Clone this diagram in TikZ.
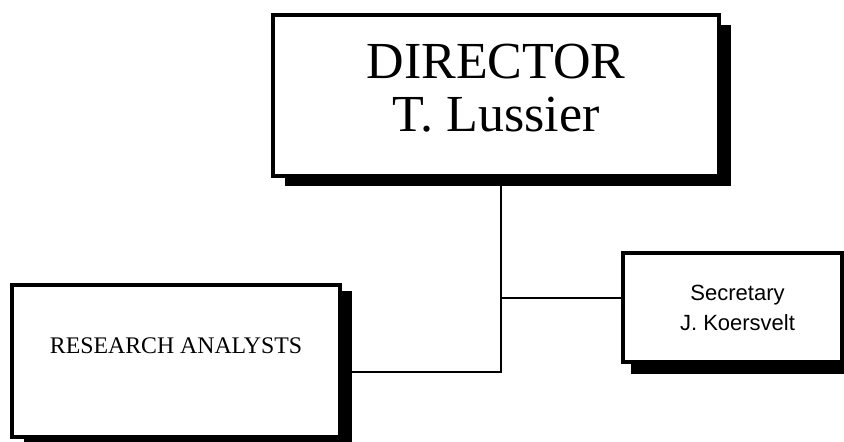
\documentclass[tikz,border=0pt]{standalone}
\usepackage{fontspec}
\setmainfont{Liberation Serif}
\newfontfamily\secfont{Liberation Sans}
\usetikzlibrary{shadows}
\tikzset{
	orgbox/.style={draw,fill=white,line width=2pt},
	boxshadow/.style 2 args={drop shadow={shadow xshift=#1,shadow yshift=#2,fill=black,opacity=1}},
}
\begin{document}
\begin{tikzpicture}[x=0.5pt,y=-0.5pt,line width=1pt]
		\useasboundingbox (0,0) rectangle (844,442);
		\node[orgbox,boxshadow={6pt}{-5pt},minimum width=223pt,minimum height=80.5pt] (dir) at (496,95.5) {};
		\node[orgbox,boxshadow={6pt}{-3pt},minimum width=164pt,minimum height=76pt] (ra) at (176,361) {};
		\node[orgbox,boxshadow={4pt}{-6pt},minimum width=109.5pt,minimum height=54.5pt] (sec) at (732.5,307.5) {};
		\node[font=\fontsize{26}{26.5}\selectfont,align=center] (dirname) at ([yshift=3.75pt]dir.center) {DIRECTOR\\T. Lussier};
		\node[font=\fontsize{11.9}{13}\selectfont] (raname) at ([yshift=7.75pt]ra.center) {RESEARCH ANALYSTS};
		\node[font=\secfont\fontsize{11}{15}\selectfont,align=center] (secname) at ([xshift=2.5pt]sec.center) {Secretary\\J. Koersvelt};
		\coordinate (joint) at (501,372);
		\coordinate (branch) at (501,298);
		\draw (dir.south -| joint) -- (joint) -- (joint -| ra.east);
		\draw (branch) -- (branch -| sec.west);
	\end{tikzpicture}
\end{document}
